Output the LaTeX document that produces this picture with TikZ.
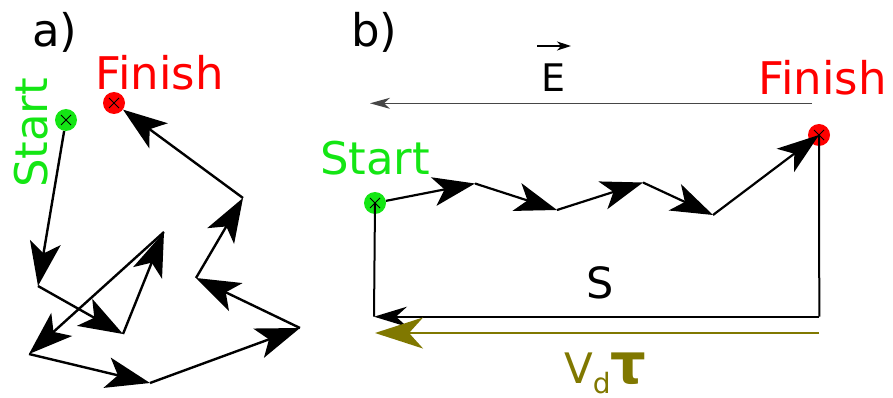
\documentclass[tikz,border=0pt]{standalone}
\usepackage{fontspec}
\setmainfont{DejaVu Sans}
\usetikzlibrary{arrows.meta}
\definecolor{myred}{RGB}{255,0,0}
\definecolor{mygreen}{RGB}{20,230,20}
\definecolor{myolive}{RGB}{128,120,0}
\definecolor{egray}{RGB}{70,70,70}
\tikzset{
  walk/.style={line width=2.4pt, -{Stealth[length=44pt,width=31pt,inset=11pt]}},
  walkb/.style={line width=2.2pt, -{Stealth[length=42pt,width=29pt,inset=11pt]}},
  dot/.style={circle, minimum size=22pt, inner sep=0pt, draw=none,
    path picture={\draw[line width=0.8pt,black] (path picture bounding box.center) ++(-5,-5) -- ++(10,10) ++(-10,0) -- ++(10,-10);}},
  lbl/.style={inner sep=0pt, anchor=base, font=\fontsize{45pt}{45pt}\selectfont},
  frame/.style={line width=2pt, black},
  sarrow/.style={line width=2pt, -{Stealth[length=33pt,width=20pt,inset=11pt]}},
  oarrow/.style={line width=2.2pt, myolive, -{Stealth[length=48pt,width=31pt,inset=14pt]}},
  earrow/.style={line width=1.2pt, egray, -{Stealth[length=20pt,width=11pt,inset=6pt]}},
  varrow/.style={line width=1.3pt, black, -{Stealth[length=14pt,width=9pt,inset=4pt]}},
}
\begin{document}
\begin{tikzpicture}[x=1pt,y=-1pt]
\useasboundingbox (0,0) rectangle (893,398);

% ---------- panel a ----------
\node[lbl, anchor=base west] (la) at (32,47) {a)};
\node[dot, fill=mygreen] (sa) at (66,120) {};
\node[dot, fill=myred] (fa) at (114,103) {};
\node[lbl, myred] (tfa) at (159.5,90) {Finish};
\node[lbl, mygreen, rotate=90] (tsa) at (47,133) {Start};

\coordinate (a1) at (38,286);
\coordinate (a2) at (123,334);
\coordinate (a3) at (164,232);
\coordinate (a4) at (29,354);
\coordinate (a5) at (150,383);
\coordinate (a6) at (300,328);
\coordinate (a7) at (196,278);
\coordinate (a8) at (243,198);

\draw[walk] (sa) -- (a1);
\draw[walk] (a1) -- (a2);
\draw[walk] (a2) -- (a3);
\draw[walk] (a3) -- (a4);
\draw[walk] (a4) -- (a5);
\draw[walk] (a5) -- (a6);
\draw[walk] (a6) -- (a7);
\draw[walk] (a7) -- (a8);
\draw[walk] (a8) -- (fa);

% ---------- panel b ----------
\node[lbl, anchor=base west] (lb) at (351,47) {b)};
\node[dot, fill=mygreen] (sb) at (375,203) {};
\node[dot, fill=myred] (fb) at (819,135) {};
\node[lbl, myred] (tfb) at (822.5,95) {Finish};
\node[lbl, mygreen] (tsb) at (375,175) {Start};

% field E
\coordinate (er) at (812,103.3);
\coordinate (el) at (370,103.3);
\draw[earrow] (er) -- (el);
\node[inner sep=0pt, anchor=base, font=\fontsize{38pt}{38pt}\selectfont] (E) at (553,92) {E};
\coordinate (v1) at (537,46);
\coordinate (v2) at (571,46);
\draw[varrow] (v1) -- (v2);

% drift walk
\coordinate (z1) at (475,183.5);
\coordinate (z2) at (557,210);
\coordinate (z3) at (643,182.5);
\coordinate (z4) at (713,215);
\draw[walkb] (sb) -- (z1);
\draw[walkb] (z1) -- (z2);
\draw[walkb] (z2) -- (z3);
\draw[walkb] (z3) -- (z4);
\draw[walkb] (z4) -- (fb.center);

% frame
\coordinate (bl) at (374,316.7);
\coordinate (br) at (819.3,316.7);
\draw[frame] (sb.center) -- (bl);
\draw[frame] (fb.center) -- (br);
\draw[sarrow] (br) -- (bl);
\node[inner sep=0pt, anchor=base, font=\fontsize{43pt}{43pt}\selectfont] (S) at (600.5,298) {S};

% drift distance
\coordinate (or) at (819,333);
\coordinate (ol) at (375,333);
\draw[oarrow] (or) -- (ol);
\node[inner sep=0pt, anchor=base west, myolive] (vd) at (564,383)
  {\fontsize{42pt}{42pt}\selectfont V\raisebox{-10pt}{\fontsize{28pt}{28pt}\selectfont d}{\bfseries\fontsize{56pt}{56pt}\selectfont τ}};
\end{tikzpicture}
\end{document}
